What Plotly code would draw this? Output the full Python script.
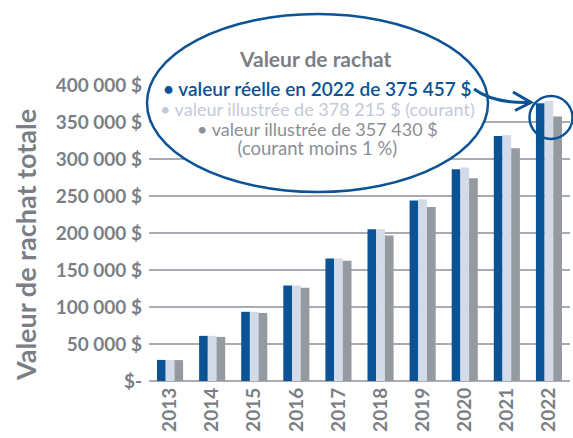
import plotly.graph_objects as go

years = ["2013", "2014", "2015", "2016", "2017", "2018", "2019", "2020", "2021", "2022"]
valeur_reelle = [28500, 61000, 93500, 129000, 165500, 205000, 244000, 286000, 331000, 375457]
valeur_courant = [28500, 61000, 93500, 129000, 165500, 205000, 245500, 288500, 332500, 378215]
valeur_moins1 = [28300, 59600, 92000, 126000, 162500, 196500, 235000, 274000, 314500, 357430]
ytick_vals = [0, 50000, 100000, 150000, 200000, 250000, 300000, 350000, 400000]
ytick_text = ["$-", "50 000 $", "100 000 $", "150 000 $", "200 000 $", "250 000 $",
              "300 000 $", "350 000 $", "400 000 $"]
callout_title = "Valeur de rachat"
callout_lines = [
    "• valeur réelle en 2022 de 375 457 $",
    "• valeur illustrée de 378 215 $ (courant)",
    "• valeur illustrée de 357 430 $",
    "(courant moins 1 %)",
]

BLUE = "#0b5394"
LIGHT = "#d3dae8"
GRAY = "#959aa0"
TXT = "#7b7f85"
FONT = "Lato"

W, H = 573, 438
L, R, T, B = 149, 570, 85, 381


def px(x):
    return (x - L) / (R - L)


def py(y):
    return (B - y) / (B - T)


def P(x, y):
    return f"{px(x):.5f},{py(y):.5f}"


fig = go.Figure()
for vals, col in [(valeur_reelle, BLUE), (valeur_courant, LIGHT), (valeur_moins1, GRAY)]:
    fig.add_trace(go.Bar(x=years, y=vals, marker=dict(color=col, line=dict(width=0))))

fig.update_layout(
    width=W, height=H,
    margin=dict(l=L, r=W - R, t=T, b=H - B, autoexpand=False),
    paper_bgcolor="white", plot_bgcolor="white",
    barmode="group", bargap=0.38, bargroupgap=0,
    showlegend=False,
    font=dict(family=FONT, color=TXT),
)
fig.update_xaxes(
    type="category", tickangle=-90, showgrid=False, showline=False, ticks="",
    ticklabelstandoff=2,
    tickfont=dict(size=19, family=FONT, color=TXT, weight="bold"),
)
fig.update_yaxes(
    range=[0, 400000], tickvals=ytick_vals, ticktext=ytick_text,
    showgrid=True, gridcolor="#a9adb3", gridwidth=1.5, zeroline=True,
    zerolinecolor="#a9adb3", zerolinewidth=1.5, showline=False, ticks="",
    ticklabelstandoff=6,
    tickfont=dict(size=19, family=FONT, color=TXT, weight="bold"),
)

shapes = []
shapes.append(dict(type="circle", xref="paper", yref="paper",
                   x0=px(147), x1=px(488), y0=py(192), y1=py(14),
                   fillcolor="white", line=dict(color=BLUE, width=2.5), layer="above"))
shapes.append(dict(type="circle", xref="paper", yref="paper",
                   x0=px(529.5), x1=px(572.5), y0=py(139), y1=py(96),
                   line=dict(color=BLUE, width=2.5), layer="above"))
shapes.append(dict(type="path", xref="paper", yref="paper",
                   path=f"M {P(474, 89)} C {P(486, 98)} {P(505, 103)} {P(529, 102.5)}",
                   line=dict(color=BLUE, width=3)))
shapes.append(dict(type="path", xref="paper", yref="paper",
                   path=f"M {P(513, 92)} L {P(531, 102.5)} L {P(515, 110.5)}",
                   line=dict(color=BLUE, width=3)))
fig.update_layout(shapes=shapes)

fig.add_annotation(text=callout_title, xref="paper", yref="paper", x=px(315), y=py(58.5),
                   xanchor="center", yanchor="middle", showarrow=False,
                   font=dict(family=FONT, size=21, color=TXT, weight="bold"))

styles = [
    f"color:{BLUE};font-size:19px;font-weight:600",
    "color:#c3c9d8;font-size:18px",
    "color:#8b8f95;font-size:18px",
    "color:#8b8f95;font-size:18.5px",
]
body = "<br>".join(f"<span style='{s}'>{t}</span>" for s, t in zip(styles, callout_lines))
fig.add_annotation(text=body, xref="paper", yref="paper", x=px(317), y=py(118),
                   xanchor="center", yanchor="middle", align="center", showarrow=False,
                   font=dict(family=FONT, size=15.2, color=TXT))

fig.add_annotation(text="Valeur de rachat totale", xref="paper", yref="paper",
                   x=px(25), y=py(245), xanchor="center", yanchor="middle",
                   textangle=-90, showarrow=False,
                   font=dict(family=FONT, size=27, color=TXT, weight="bold"))

fig.write_html("out.html", config={"displayModeBar": False},
               post_script="document.body.style.margin='0';")
